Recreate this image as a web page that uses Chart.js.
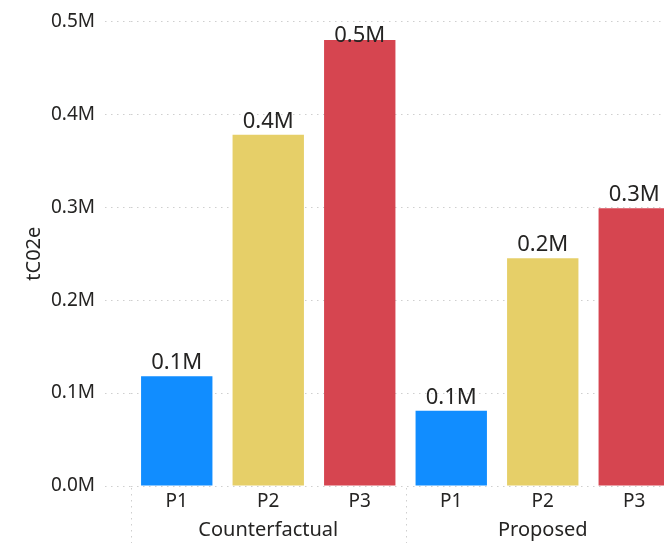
<!DOCTYPE html>
<html lang="en">
<head>
  <meta charset="UTF-8">
  <title>tC02e by period</title>
  <script src="https://cdn.jsdelivr.net/npm/chart.js"></script>
</head>
<style>
  html, body { margin: 0; padding: 0; background: #fff; overflow: hidden; }
  .wrap { width: 690px; height: 543px; }
</style>
<body>
<div class="wrap">
  <canvas id="barChart"></canvas>
</div>

<script>
  // data (tCO2e)
  const groups = ['Counterfactual', 'Proposed'];
  const periods = ['P1', 'P2', 'P3'];
  const counterfactual = [118000, 378000, 480000];
  const proposed = [81000, 245000, 299000];
  const yTicks = [0, 100000, 200000, 300000, 400000, 500000];
  const periodColors = ['#118DFF', '#E6CF68', '#D64550'];

  const FONT = "'Segoe UI', 'Noto Sans', sans-serif";
  const TEXT = '#252423';
  const GRID = '#cfcfcf';
  const DOTS = [1.5, 4.5];

  const labels = [];
  const values = [];
  const colors = [];
  [counterfactual, proposed].forEach((series) => {
    series.forEach((v, i) => {
      labels.push(periods[i]);
      values.push(v);
      colors.push(periodColors[i]);
    });
  });

  const fmtM = (v) => (v / 1000000).toFixed(1) + 'M';

  const extras = {
    id: 'extras',
    afterDatasetsDraw(chart) {
      const ctx = chart.ctx;
      const area = chart.chartArea;
      const meta = chart.getDatasetMeta(0);
      ctx.save();
      ctx.fillStyle = TEXT;
      ctx.font = '22px ' + FONT;
      ctx.textAlign = 'center';
      ctx.textBaseline = 'alphabetic';
      meta.data.forEach((bar, i) => {
        // keep labels inside the plot, like the original
        const y = Math.max(bar.y - 7, area.top + 21);
        ctx.fillText(fmtM(values[i]), bar.x, y);
      });

      // group separators and group labels
      const x = chart.scales.x;
      const per = periods.length;
      const half = (x.getPixelForValue(1) - x.getPixelForValue(0)) / 2;
      ctx.strokeStyle = GRID;
      ctx.lineWidth = 1;
      ctx.setLineDash(DOTS);
      const edges = [];
      for (let g = 0; g <= groups.length; g++) {
        const idx = g * per;
        const px = idx < labels.length ? x.getPixelForValue(idx) - half : x.getPixelForValue(idx - 1) + half;
        edges.push(px);
        ctx.beginPath();
        ctx.moveTo(Math.round(px) + 0.5, area.bottom + 2);
        ctx.lineTo(Math.round(px) + 0.5, chart.height);
        ctx.stroke();
      }
      ctx.setLineDash([]);
      ctx.font = '20px ' + FONT;
      ctx.textBaseline = 'middle';
      groups.forEach((g, i) => {
        ctx.fillText(g, (edges[i] + edges[i + 1]) / 2, area.bottom + 44);
      });
      ctx.restore();
    }
  };

  new Chart(document.getElementById('barChart').getContext('2d'), {
    type: 'bar',
    data: {
      labels: labels,
      datasets: [{
        label: 'tC02e',
        data: values,
        backgroundColor: colors,
        categoryPercentage: 1,
        barPercentage: 0.78
      }]
    },
    options: {
      responsive: true,
      maintainAspectRatio: false,
      animation: false,
      layout: { padding: { top: 16, right: 10, bottom: 0, left: 0 } },
      plugins: { legend: { display: false }, tooltip: { enabled: false } },
      scales: {
        x: {
          grid: { display: false, drawTicks: false },
          border: { display: false },
          ticks: { color: TEXT, font: { family: FONT, size: 19 }, padding: 4 },
          afterFit: (s) => { s.height = 57; }
        },
        y: {
          min: 0,
          max: 500000,
          afterBuildTicks: (s) => { s.ticks = yTicks.map((v) => ({ value: v })); },
          grid: {
            color: GRID,
            lineWidth: 1,
            tickBorderDash: DOTS,
            tickLength: 26,
            tickColor: GRID
          },
          border: { display: false, dash: DOTS },
          ticks: {
            color: TEXT,
            font: { family: FONT, size: 19 },
            padding: 10,
            callback: (v) => fmtM(v)
          },
          title: {
            display: true,
            text: 'tC02e',
            color: TEXT,
            font: { family: FONT, size: 20 },
            padding: { top: 22, bottom: 0 }
          },
          afterFit: (s) => { s.width = 131; }
        }
      }
    },
    plugins: [extras]
  });
</script>
</body>
</html>
